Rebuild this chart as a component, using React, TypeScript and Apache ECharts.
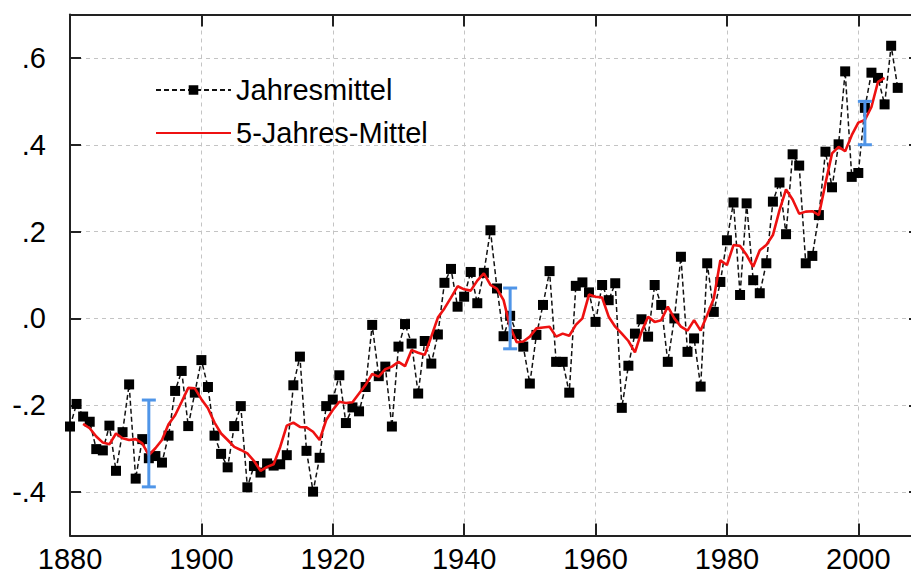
import React, { useEffect, useRef } from "react";
import * as echarts from "echarts";

const startYear = 1880;
const annualMean = [
  -0.249, -0.197, -0.226, -0.238, -0.301, -0.304, -0.247, -0.351, -0.262, -0.152,
  -0.369, -0.278, -0.322, -0.317, -0.332, -0.27, -0.167, -0.121, -0.248, -0.171,
  -0.096, -0.158, -0.27, -0.312, -0.343, -0.248, -0.202, -0.389, -0.34, -0.355,
  -0.334, -0.339, -0.336, -0.315, -0.154, -0.088, -0.305, -0.399, -0.321, -0.202,
  -0.187, -0.131, -0.241, -0.205, -0.214, -0.158, -0.015, -0.133, -0.111, -0.249,
  -0.065, -0.013, -0.058, -0.173, -0.052, -0.104, -0.037, 0.082, 0.114, 0.027,
  0.05, 0.107, 0.035, 0.105, 0.203, 0.069, -0.041, 0.006, -0.036, -0.065,
  -0.15, -0.038, 0.031, 0.109, -0.1, -0.1, -0.171, 0.075, 0.083, 0.06,
  -0.008, 0.077, 0.042, 0.081, -0.206, -0.109, -0.035, -0.002, -0.042, 0.077,
  0.031, -0.1, 0.0, 0.142, -0.077, -0.046, -0.157, 0.127, 0.015, 0.084,
  0.18, 0.267, 0.054, 0.265, 0.088, 0.058, 0.127, 0.269, 0.313, 0.194,
  0.378, 0.352, 0.127, 0.144, 0.238, 0.384, 0.302, 0.401, 0.569, 0.326,
  0.335, 0.485, 0.566, 0.554, 0.493, 0.628, 0.531,
];

const smoothStartYear = 1882;
const fiveYearMean = [
  -0.243, -0.253, -0.272, -0.286, -0.29, -0.265, -0.276, -0.28,
  -0.278, -0.288, -0.315, -0.299, -0.28, -0.244, -0.223, -0.192, -0.16, -0.161,
  -0.186, -0.207, -0.24, -0.265, -0.28, -0.296, -0.303, -0.311, -0.328, -0.351,
  -0.342, -0.336, -0.296, -0.247, -0.24, -0.25, -0.251, -0.261, -0.28, -0.234,
  -0.211, -0.192, -0.195, -0.193, -0.173, -0.153, -0.128, -0.134, -0.117, -0.111,
  -0.1, -0.11, -0.073, -0.079, -0.084, -0.042, 0.002, 0.023, 0.048, 0.074,
  0.067, 0.064, 0.087, 0.104, 0.077, 0.068, 0.042, -0.02, -0.055, -0.053,
  -0.042, -0.023, -0.021, -0.019, -0.042, -0.035, -0.04, -0.015, 0.0, 0.055,
  0.05, 0.048, 0.004, -0.019, -0.035, -0.052, -0.078, -0.031, 0.004, -0.008,
  -0.004, 0.027, 0.0, -0.019, -0.028, -0.004, -0.028, 0.008, 0.046, 0.134,
  0.123, 0.169, 0.167, 0.146, 0.119, 0.157, 0.169, 0.192, 0.249, 0.297,
  0.274, 0.241, 0.246, 0.247, 0.238, 0.311, 0.38, 0.395, 0.385, 0.422,
  0.451, 0.457, 0.487, 0.545, 0.554,
];

const errorBarYears = [1892, 1947, 2001];
const errorBarLow = [-0.388, -0.07, 0.4];
const errorBarHigh = [-0.188, 0.07, 0.5];

const xLabelValues = [1880, 1900, 1920, 1940, 1960, 1980, 2000];
const yLabelValues = [-0.4, -0.2, 0, 0.2, 0.4, 0.6];

const FONT = "'Liberation Sans', Arial, Helvetica, sans-serif";

function yFmt(v: number) {
  const n = Math.round(Math.abs(v) * 10);
  return (v < -1e-9 ? "-" : "") + "." + n;
}

export default function App() {
  const ref = useRef<HTMLDivElement>(null);

  useEffect(() => {
    if (!ref.current) return;
    const chart = echarts.init(ref.current, null, { renderer: "svg" });

    const annualData = annualMean.map((v, i) => [startYear + i, v]);
    const smoothData = fiveYearMean.map((v, i) => [smoothStartYear + i, v]);
    const errData = errorBarYears.map((y, i) => [y, errorBarLow[i], errorBarHigh[i]]);

    const gridLine = { show: true, lineStyle: { color: "#c4c4c4", type: [4, 4], width: 1 } };

    chart.setOption({
      animation: false,
      backgroundColor: "#ffffff",
      textStyle: { fontFamily: FONT },
      grid: { left: 70, top: 14.5, width: 854, height: 521, show: false, outerBoundsMode: "none", containLabel: false },
      legend: {
        orient: "vertical",
        left: 150,
        top: 70,
        itemWidth: 75,
        itemHeight: 12,
        itemGap: 13,
        data: [
          "Jahresmittel",
          { name: "5-Jahres-Mittel", itemStyle: { opacity: 0 } },
        ],
        textStyle: { fontSize: 29, lineHeight: 30, color: "#000", fontFamily: FONT },
      },
      xAxis: [
        {
          type: "value",
          min: 1880,
          max: 2010,
          interval: 10,
          position: "bottom",
          axisLine: { show: true, onZero: false, lineStyle: { color: "#222", width: 2 } },
          axisTick: { show: true, inside: true, length: 12, customValues: xLabelValues, lineStyle: { color: "#222", width: 2 } },
          axisLabel: {
            show: true,
            customValues: xLabelValues,
            formatter: (v: number) => String(v),
            fontSize: 29,
            color: "#000",
            margin: 9,
            fontFamily: FONT,
          },
          splitLine: gridLine,
        },
        {
          type: "value",
          min: 1880,
          max: 2010,
          interval: 10,
          position: "top",
          axisLine: { show: true, onZero: false, lineStyle: { color: "#222", width: 2 } },
          axisTick: { show: true, inside: true, length: 12, customValues: xLabelValues, lineStyle: { color: "#222", width: 2 } },
          axisLabel: { show: false },
          splitLine: { show: false },
        },
      ],
      yAxis: [
        {
          type: "value",
          min: -0.5,
          max: 0.7,
          interval: 0.1,
          position: "left",
          axisLine: { show: true, onZero: false, lineStyle: { color: "#222", width: 2 } },
          axisTick: { show: true, inside: true, length: 11, customValues: yLabelValues, lineStyle: { color: "#222", width: 2 } },
          axisLabel: {
            show: true,
            customValues: yLabelValues,
            formatter: (v: number) => yFmt(v),
            fontSize: 29,
            color: "#000",
            margin: 24,
            fontFamily: FONT,
          },
          splitLine: gridLine,
        },
        {
          type: "value",
          min: -0.5,
          max: 0.7,
          interval: 0.1,
          position: "right",
          axisLine: { show: true, onZero: false, lineStyle: { color: "#222", width: 2 } },
          axisTick: { show: true, inside: true, length: 15, customValues: yLabelValues, lineStyle: { color: "#222", width: 2 } },
          axisLabel: { show: false },
          splitLine: { show: false },
        },
      ],
      series: [
        {
          name: "Jahresmittel",
          type: "line",
          data: annualData,
          symbol: "rect",
          symbolSize: 10,
          itemStyle: { color: "#000" },
          lineStyle: { color: "#111", width: 1.5, type: [5, 3] },
          z: 2,
        },
        {
          name: "5-Jahres-Mittel",
          type: "line",
          data: smoothData,
          symbol: "none",
          itemStyle: { color: "#ee1111" },
          lineStyle: { color: "#ee1111", width: 2.6 },
          z: 3,
        },
        {
          type: "custom",
          data: errData,
          encode: { x: 0, y: [1, 2] },
          z: 4,
          renderItem: (params: any, api: any) => {
            const x = api.value(0);
            const lo = api.coord([x, api.value(1)]);
            const hi = api.coord([x, api.value(2)]);
            const cap = 7;
            const style = { stroke: "#4f95e8", lineWidth: 3 };
            return {
              type: "group",
              children: [
                { type: "line", shape: { x1: lo[0], y1: lo[1], x2: hi[0], y2: hi[1] }, style },
                { type: "line", shape: { x1: lo[0] - cap, y1: lo[1], x2: lo[0] + cap, y2: lo[1] }, style },
                { type: "line", shape: { x1: hi[0] - cap, y1: hi[1], x2: hi[0] + cap, y2: hi[1] }, style },
              ],
            };
          },
        },
      ],
    });

    return () => chart.dispose();
  }, []);

  return (
    <div
      ref={ref}
      style={{ position: "fixed", left: 0, top: 0, width: 911, height: 575, background: "#fff" }}
    />
  );
}
